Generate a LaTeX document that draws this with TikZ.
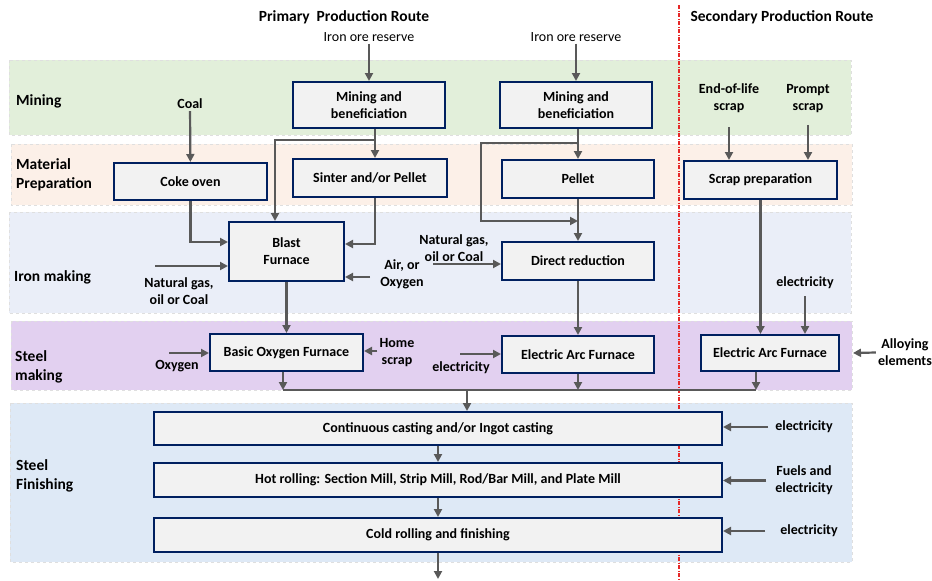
\documentclass[tikz,border=0pt]{standalone}
\usepackage{fontspec}
\setmainfont{Carlito}
\usetikzlibrary{arrows.meta}
\definecolor{boxline}{RGB}{0,32,96}
\definecolor{boxfill}{RGB}{242,242,242}
\definecolor{arrgray}{RGB}{89,89,89}
\definecolor{mineband}{RGB}{226,239,218}
\definecolor{prepband}{RGB}{252,240,232}
\definecolor{ironband}{RGB}{234,238,248}
\definecolor{steelband}{RGB}{226,208,240}
\definecolor{finband}{RGB}{222,233,246}
\definecolor{routeline}{RGB}{230,40,40}

\begin{document}
\begin{tikzpicture}[x=1pt,y=-1pt,
    proc/.style={draw=boxline, line width=2pt, fill=boxfill, inner sep=0pt, align=center,
      font=\bfseries\fontsize{14}{17}\selectfont},
    lbl/.style={align=center, inner sep=2pt, font=\bfseries\fontsize{14}{17}\selectfont},
    orelbl/.style={lbl, font=\fontsize{14}{17}\selectfont},
    stage/.style={lbl, anchor=west, align=left, font=\bfseries\fontsize{15.5}{19}\selectfont},
    route/.style={lbl, font=\bfseries\fontsize{15.5}{19}\selectfont},
    band/.style={draw=gray!25, dashed, line width=0.8pt},
    flow/.style={draw=arrgray, line width=2.2pt, -{Triangle[length=8pt,width=8pt]}}]
    \useasboundingbox (0,0) rectangle (932,581);
    \path[band, fill=mineband] (9,60) rectangle (851,135);
    \path[band, fill=prepband] (11,144) rectangle (852,205);
    \path[band, fill=ironband] (9,212) rectangle (851,313);
    \path[band, fill=steelband] (11,321) rectangle (852,390);
    \path[band, fill=finband] (10,403) rectangle (852,562);
    \draw[routeline, line width=1.3pt, dash pattern=on 4pt off 1.5pt on 1pt off 1.5pt] (679,5) -- (679,581);

    \node[stage] (mining) at (14,101) {Mining};
    \node[stage] (prep) at (14,175) {Material\\Preparation};
    \node[stage] (ironmk) at (12,277) {Iron making};
    \node[stage] (steelmk) at (13,367) {Steel\\making};
    \node[stage] (finish) at (14,476) {Steel\\Finishing};
    \node[route] (primary) at (344,17) {Primary\ \ Production Route};
    \node[route] (secondary) at (782,17) {Secondary Production Route};

    \node[proc, minimum width=152pt, minimum height=46pt] (mine1) at (369,105) {Mining and\\beneficiation};
    \node[proc, minimum width=152pt, minimum height=46pt] (mine2) at (576,105) {Mining and\\beneficiation};
    \node[proc, minimum width=153pt, minimum height=37pt] (coke) at (190.5,181.5) {Coke oven};
    \node[proc, minimum width=154pt, minimum height=38pt] (sinter) at (370,178) {Sinter and/or Pellet};
    \node[proc, minimum width=152pt, minimum height=38pt] (pellet) at (578,179) {Pellet};
    \node[proc, minimum width=153pt, minimum height=38pt] (scrap) at (760.5,180) {Scrap preparation};
    \node[proc, minimum width=115pt, minimum height=59pt] (bf) at (286.5,251.5) {Blast\\Furnace};
    \node[proc, minimum width=152pt, minimum height=38pt] (dr) at (578,261) {Direct reduction};
    \node[proc, minimum width=153pt, minimum height=37pt] (bof) at (286.5,352.5) {Basic Oxygen Furnace};
    \node[proc, minimum width=152pt, minimum height=37pt] (eaf1) at (578,354.5) {Electric Arc Furnace};
    \node[proc, minimum width=138pt, minimum height=36pt] (eaf2) at (770,353) {Electric Arc Furnace};
    \node[proc, minimum width=568pt, minimum height=33pt] (cc) at (438,428.5) {Continuous casting and/or Ingot casting};
    \node[proc, minimum width=568pt, minimum height=34pt] (hot) at (438,480) {Hot rolling: Section Mill, Strip Mill, Rod/Bar Mill, and Plate Mill};
    \node[proc, minimum width=568pt, minimum height=34pt] (cold) at (438,535) {Cold rolling and finishing};

    \node[orelbl] (ore1) at (369,37) {Iron ore reserve};
    \node[orelbl] (ore2) at (576,37) {Iron ore reserve};
    \node[lbl] (coal) at (190,104) {Coal};
    \node[lbl] (ng1) at (179,291) {Natural gas,\\oil or Coal};
    \node[lbl] (air) at (402,274.5) {Air, or\\Oxygen};
    \node[lbl] (ng2) at (454,248) {Natural gas,\\oil or Coal};
    \node[lbl] (ox) at (177,366) {Oxygen};
    \node[lbl] (home) at (397,352.5) {Home\\scrap};
    \node[lbl] (el1) at (461,368) {electricity};
    \node[lbl] (eol) at (729,98.5) {End-of-life\\scrap};
    \node[lbl] (prompt) at (808,98.5) {Prompt\\scrap};
    \node[lbl] (el2) at (805,283) {electricity};
    \node[lbl] (alloy) at (905,352.5) {Alloying\\elements};
    \node[lbl] (el3) at (804,427) {electricity};
    \node[lbl] (fuel) at (804,480.5) {Fuels and\\electricity};
    \node[lbl] (el4) at (809,531) {electricity};

    \coordinate (split1) at (375,140);
    \coordinate (split2) at (578,143);
    \coordinate (merge2) at (578,221);
    \coordinate (ngin1) at (155,266);
    \coordinate (airin) at (370,277);
    \coordinate (ngin2) at (433,264);
    \coordinate (oxin) at (169,353);
    \coordinate (elin1) at (460,354);
    \coordinate (collect) at (467,390);
    \coordinate (out) at (438,579);

    \draw[flow] (ore1) -- (mine1);
    \draw[flow] (ore2) -- (mine2);
    \draw[flow] ([xshift=6pt]mine1.south) -- ([xshift=5pt]sinter.north);
    \draw[flow] (split1) -| ([xshift=-11.5pt]bf.north);
    \draw[flow] (coal) -- (coke);
    \draw[flow] (coke.south) |- ([yshift=9.5pt]bf.west);
    \draw[flow] ([xshift=5pt]sinter.south) |- ([yshift=7.5pt]bf.east);
    \draw[flow] (ngin1) -- (ngin1 -| bf.west);
    \draw[flow] (airin) -- (airin -| bf.east);
    \draw[flow] (mine2.south -| pellet) -- (pellet);
    \draw[flow] (split2) -- ++(-97,0) |- (merge2);
    \draw[flow] (pellet) -- (dr);
    \draw[flow] (ngin2) -- (ngin2 -| dr.west);
    \draw[flow] (bf) -- (bof);
    \draw[flow] (dr) -- (eaf1);
    \draw[flow] (oxin) -- (oxin -| bof.west);
    \draw[flow] ([yshift=1.5pt]home.west) -- ([yshift=1.5pt]home.west -| bof.east);
    \draw[flow] (elin1) -- (elin1 -| eaf1.west);
    \draw[flow, shorten <=12pt] (eol) -- (eol |- scrap.north);
    \draw[flow, shorten <=10pt] (prompt) -- (prompt |- scrap.north);
    \draw[flow] (scrap.south) -- (scrap.south |- eaf2.north);
    \draw[flow, shorten <=5pt] (el2) -- (el2 |- eaf2.north);
    \draw[flow] (alloy.west) -- ([xshift=13pt]eaf2.east);

    \draw[draw=arrgray, line width=2.2pt] ([xshift=-3.5pt]bof.south |- collect) -- ([xshift=-14pt]eaf2.south |- collect);
    \draw[flow] ([xshift=-3.5pt]bof.south) -- ([xshift=-3.5pt]bof.south |- collect);
    \draw[flow] (eaf1.south) -- (eaf1.south |- collect);
    \draw[flow] ([xshift=-14pt]eaf2.south) -- ([xshift=-14pt]eaf2.south |- collect);
    \draw[flow] (collect) -- (collect |- cc.north);
    \draw[flow] (cc) -- (hot);
    \draw[flow] (hot) -- (cold);
    \draw[flow] (cold) -- (out);
    \draw[flow, shorten <=5pt] (el3) -- (el3 -| cc.east);
    \draw[flow, shorten <=7pt] (fuel) -- (fuel -| hot.east);
    \draw[flow, shorten <=13pt] (el4) -- (el4 -| cold.east);
\end{tikzpicture}
\end{document}
